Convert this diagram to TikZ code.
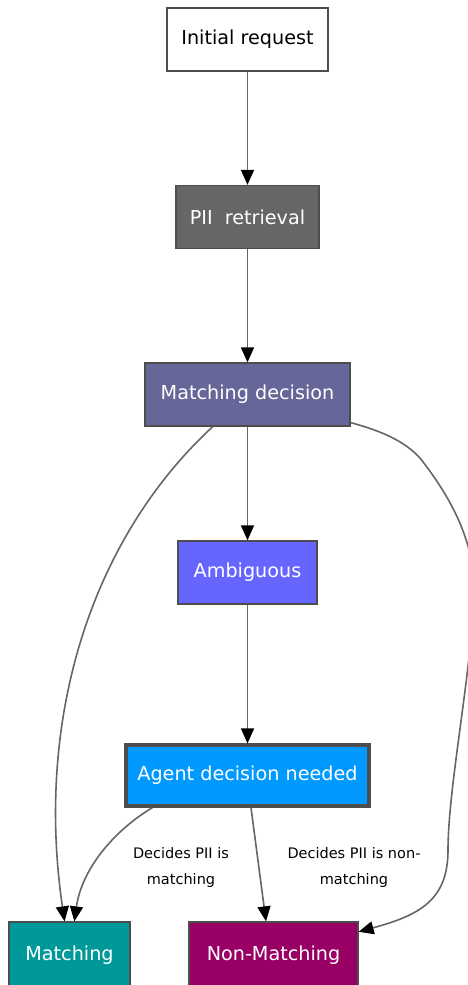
\documentclass[tikz,border=0pt]{standalone}
\usepackage{fontspec}
\setmainfont{DejaVu Sans}
\usetikzlibrary{calc,arrows.meta}

\definecolor{piigray}{HTML}{666666}
\definecolor{decidecol}{HTML}{666699}
\definecolor{ambcol}{HTML}{6666FF}
\definecolor{agentcol}{HTML}{0099FF}
\definecolor{matchcol}{HTML}{009999}
\definecolor{nonmatchcol}{HTML}{990066}
\definecolor{bordergray}{HTML}{4D4D4D}
\definecolor{linegray}{HTML}{666666}

\begin{document}
\begin{tikzpicture}[x=1pt,y=-1pt,
    box/.style={draw=bordergray, line width=1.3pt, minimum height=63pt, inner sep=0pt,
        text=white, font=\fontsize{19.2}{22}\selectfont},
    flow/.style={draw=linegray, line width=1.6pt,
        -{Triangle[length=15pt,width=13pt,color=black]}},
    lbl/.style={align=center, font=\fontsize{14.5}{26}\selectfont}]
    \useasboundingbox (0,0) rectangle (467,985);

    \node[box, fill=white, text=black, minimum width=161pt] (init) at (247.5,39.5) {Initial request};
    \node[box, fill=piigray, minimum width=143pt] (pii) at (247.5,217) {PII\ \ retrieval};
    \node[box, fill=decidecol, minimum width=205pt] (md) at (247.5,394.5) {Matching decision};
    \node[box, fill=ambcol, minimum width=139pt] (amb) at (247.5,572.5) {Ambiguous};
    \node[box, fill=agentcol, line width=3.2pt, minimum width=243pt, minimum height=61pt] (agent) at (247.5,775.5) {Agent decision needed};
    \node[box, fill=matchcol, minimum width=121pt, minimum height=66pt] (match) at (69.5,955) {Matching};
    \node[box, fill=nonmatchcol, minimum width=169pt, minimum height=66pt] (nonm) at (273.5,955) {Non-Matching};

    \draw[flow] (init) -- (pii);
    \draw[flow] (pii) -- (md);
    \draw[flow] (md) -- (amb);
    \draw[flow] (amb) -- (agent);

    \draw[flow] (md) .. controls (90,540) and (35,720) .. (match);
    \draw[flow] (md) .. controls (385,432) and (405,442) .. (420,458)
        .. controls (445,490) and (478,540) .. (474,600)
        .. controls (470,680) and (448,790) .. (448,850)
        .. controls (448,900) and (420,915) .. (nonm);

    \draw[flow] ([xshift=28pt]agent.south west) .. controls (115,830) and (82,868) .. (match);
    \draw[flow] ([xshift=3.5pt]agent.south) -- ([xshift=-7.5pt]nonm.north);

    \node[lbl] (lblmatch) at (181,867) {Decides PII is\\matching};
    \node[lbl] (lblnon) at (354,867) {Decides PII is non-\\matching};
\end{tikzpicture}
\end{document}
